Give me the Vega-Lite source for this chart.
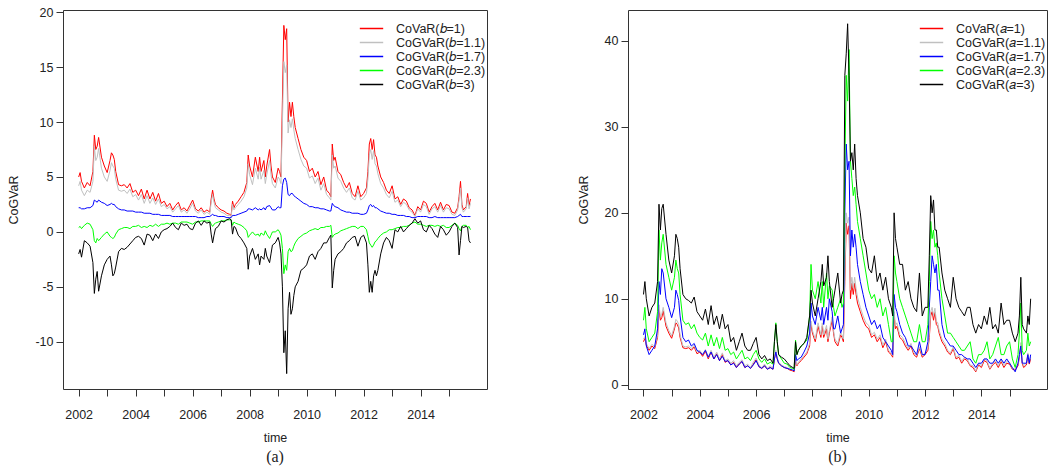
{
  "$schema": "https://vega.github.io/schema/vega-lite/v6.json",
  "background": "white",
  "padding": {"left": 7, "top": 5, "right": 5, "bottom": 5},
  "bounds": "flush",
  "spacing": 141,
  "resolve": {"scale": {"color": "independent", "x": "independent", "y": "independent"}, "legend": {"color": "independent"}},
  "config": {
    "font": "Liberation Sans",
    "view": {"stroke": "#333", "strokeWidth": 1},
    "axis": {"grid": false, "domain": false, "tickColor": "#333", "tickSize": 7, "labelFontSize": 12.5, "labelColor": "#222", "titleFontSize": 12.5, "titleFontWeight": "normal", "titleColor": "#222", "labelFont": "Liberation Sans", "titleFont": "Liberation Sans"},
    "legend": {"orient": "none", "symbolType": "M-1.8,0L1.8,0", "symbolSize": 169, "symbolStrokeWidth": 1.5, "labelFontSize": 12.5, "labelFont": "Liberation Sans", "labelColor": "#222", "labelOffset": 17, "padding": 0, "rowPadding": -1, "labelLimit": 300, "title": null},
    "title": {"font": "Liberation Serif", "fontSize": 16, "fontWeight": "normal", "color": "#222"}
  },
  "datasets": {
    "d": [
      {"t":2002.0,"r":5.0,"ga":4.2,"ba":2.2,"na":0.4,"ka":-2.0,"gb":5.3,"bb":5.8,"nb":7.5,"kb":10.5},
      {"t":2002.05,"r":5.4,"ga":4.6,"ba":2.2,"na":0.5,"ka":-1.6,"gb":5.6,"bb":6.5,"nb":9.0,"kb":12.0},
      {"t":2002.1,"r":4.6,"ga":3.8,"ba":2.1,"na":0.3,"ka":-2.3,"gb":4.8,"bb":4.5,"nb":6.5,"kb":10.0},
      {"t":2002.2,"r":4.0,"ga":3.3,"ba":2.1,"na":0.6,"ka":-0.8,"gb":4.2,"bb":3.5,"nb":5.0,"kb":8.0},
      {"t":2002.3,"r":4.5,"ga":3.8,"ba":2.2,"na":0.8,"ka":-1.0,"gb":4.7,"bb":4.0,"nb":5.5,"kb":9.0},
      {"t":2002.4,"r":4.2,"ga":3.6,"ba":2.2,"na":0.7,"ka":-1.3,"gb":4.4,"bb":4.5,"nb":6.0,"kb":9.5},
      {"t":2002.5,"r":5.5,"ga":4.6,"ba":2.4,"na":0.2,"ka":-2.8,"gb":5.8,"bb":6.5,"nb":8.5,"kb":12.0},
      {"t":2002.55,"r":8.8,"ga":7.8,"ba":2.9,"na":-0.8,"ka":-5.6,"gb":9.3,"bb":12.0,"nb":18.0,"kb":21.0},
      {"t":2002.6,"r":7.5,"ga":6.5,"ba":2.8,"na":-1.0,"ka":-4.3,"gb":7.9,"bb":10.5,"nb":14.5,"kb":18.0},
      {"t":2002.65,"r":7.8,"ga":6.8,"ba":2.7,"na":-0.6,"ka":-3.6,"gb":8.2,"bb":13.5,"nb":16.5,"kb":20.5},
      {"t":2002.7,"r":8.6,"ga":7.6,"ba":2.9,"na":-0.8,"ka":-5.4,"gb":9.0,"bb":13.0,"nb":17.5,"kb":21.0},
      {"t":2002.8,"r":6.8,"ga":5.8,"ba":2.7,"na":-0.5,"ka":-4.0,"gb":7.2,"bb":10.0,"nb":14.0,"kb":17.5},
      {"t":2002.9,"r":6.0,"ga":5.0,"ba":2.6,"na":-0.2,"ka":-3.0,"gb":6.3,"bb":9.0,"nb":12.5,"kb":14.5},
      {"t":2003.0,"r":5.4,"ga":4.6,"ba":2.4,"na":0.0,"ka":-2.5,"gb":5.7,"bb":7.8,"nb":11.0,"kb":13.0},
      {"t":2003.1,"r":6.5,"ga":5.6,"ba":2.5,"na":-0.4,"ka":-2.2,"gb":6.8,"bb":9.0,"nb":12.5,"kb":15.0},
      {"t":2003.15,"r":7.2,"ga":6.3,"ba":2.6,"na":-0.5,"ka":-3.0,"gb":7.6,"bb":11.0,"nb":14.5,"kb":17.5},
      {"t":2003.2,"r":7.0,"ga":6.0,"ba":2.5,"na":-0.6,"ka":-4.0,"gb":7.4,"bb":10.5,"nb":13.5,"kb":17.0},
      {"t":2003.25,"r":6.6,"ga":5.8,"ba":2.5,"na":-0.5,"ka":-3.8,"gb":7.0,"bb":9.8,"nb":13.0,"kb":16.0},
      {"t":2003.3,"r":5.5,"ga":4.8,"ba":2.3,"na":-0.2,"ka":-3.2,"gb":5.8,"bb":8.0,"nb":10.5,"kb":13.5},
      {"t":2003.4,"r":4.3,"ga":3.8,"ba":2.1,"na":0.2,"ka":-1.8,"gb":4.5,"bb":5.5,"nb":7.5,"kb":10.5},
      {"t":2003.5,"r":4.2,"ga":3.7,"ba":2.0,"na":0.3,"ka":-1.5,"gb":4.4,"bb":5.0,"nb":7.0,"kb":10.0},
      {"t":2003.6,"r":4.3,"ga":3.8,"ba":2.0,"na":0.4,"ka":-1.6,"gb":4.5,"bb":5.2,"nb":7.2,"kb":9.8},
      {"t":2003.7,"r":4.0,"ga":3.5,"ba":1.9,"na":0.4,"ka":-1.4,"gb":4.2,"bb":4.5,"nb":6.5,"kb":9.5},
      {"t":2003.8,"r":4.4,"ga":3.9,"ba":1.9,"na":0.3,"ka":-1.1,"gb":4.6,"bb":4.8,"nb":7.0,"kb":10.2},
      {"t":2003.9,"r":3.6,"ga":3.2,"ba":1.9,"na":0.5,"ka":-0.8,"gb":3.8,"bb":4.0,"nb":6.0,"kb":8.5},
      {"t":2004.0,"r":3.8,"ga":3.4,"ba":1.8,"na":0.5,"ka":-0.5,"gb":4.0,"bb":3.8,"nb":5.5,"kb":8.0},
      {"t":2004.1,"r":3.3,"ga":2.9,"ba":1.8,"na":0.6,"ka":-0.4,"gb":3.5,"bb":3.5,"nb":5.2,"kb":7.5},
      {"t":2004.2,"r":3.9,"ga":3.4,"ba":1.8,"na":0.4,"ka":-0.6,"gb":4.1,"bb":4.0,"nb":6.0,"kb":8.8},
      {"t":2004.3,"r":3.0,"ga":2.6,"ba":1.7,"na":0.5,"ka":-1.2,"gb":3.2,"bb":3.2,"nb":4.5,"kb":7.0},
      {"t":2004.4,"r":3.8,"ga":3.3,"ba":1.7,"na":0.4,"ka":-0.2,"gb":4.0,"bb":3.8,"nb":5.8,"kb":9.2},
      {"t":2004.5,"r":3.0,"ga":2.6,"ba":1.7,"na":0.6,"ka":-0.3,"gb":3.2,"bb":3.0,"nb":4.5,"kb":7.0},
      {"t":2004.6,"r":3.6,"ga":3.1,"ba":1.6,"na":0.5,"ka":-0.8,"gb":3.8,"bb":3.5,"nb":5.5,"kb":8.0},
      {"t":2004.7,"r":2.8,"ga":2.5,"ba":1.6,"na":0.7,"ka":-0.2,"gb":3.0,"bb":2.8,"nb":4.2,"kb":6.5},
      {"t":2004.8,"r":3.5,"ga":3.0,"ba":1.6,"na":0.5,"ka":-0.6,"gb":3.7,"bb":3.3,"nb":5.5,"kb":8.2},
      {"t":2004.9,"r":2.6,"ga":2.3,"ba":1.5,"na":0.7,"ka":0.0,"gb":2.8,"bb":2.7,"nb":4.0,"kb":6.5},
      {"t":2005.0,"r":2.8,"ga":2.5,"ba":1.5,"na":0.7,"ka":0.2,"gb":3.0,"bb":2.8,"nb":4.2,"kb":7.0},
      {"t":2005.1,"r":2.3,"ga":2.1,"ba":1.5,"na":0.8,"ka":0.3,"gb":2.5,"bb":2.3,"nb":3.5,"kb":5.0},
      {"t":2005.2,"r":2.6,"ga":2.3,"ba":1.5,"na":0.7,"ka":0.5,"gb":2.8,"bb":2.5,"nb":3.8,"kb":5.5},
      {"t":2005.3,"r":2.0,"ga":1.8,"ba":1.4,"na":0.8,"ka":0.8,"gb":2.2,"bb":2.0,"nb":3.0,"kb":4.0},
      {"t":2005.4,"r":2.4,"ga":2.1,"ba":1.4,"na":0.8,"ka":0.4,"gb":2.6,"bb":2.4,"nb":3.5,"kb":5.0},
      {"t":2005.5,"r":2.7,"ga":2.4,"ba":1.4,"na":0.7,"ka":0.2,"gb":2.9,"bb":2.7,"nb":4.0,"kb":6.0},
      {"t":2005.6,"r":2.0,"ga":1.8,"ba":1.4,"na":0.9,"ka":0.8,"gb":2.2,"bb":2.0,"nb":3.0,"kb":4.5},
      {"t":2005.7,"r":2.2,"ga":2.0,"ba":1.4,"na":0.9,"ka":0.6,"gb":2.4,"bb":2.2,"nb":3.2,"kb":4.0},
      {"t":2005.8,"r":1.9,"ga":1.7,"ba":1.4,"na":0.9,"ka":0.7,"gb":2.0,"bb":1.9,"nb":2.8,"kb":4.0},
      {"t":2005.9,"r":2.4,"ga":2.1,"ba":1.4,"na":0.8,"ka":0.3,"gb":2.6,"bb":2.3,"nb":3.5,"kb":4.8},
      {"t":2006.0,"r":2.9,"ga":2.6,"ba":1.4,"na":0.7,"ka":0.2,"gb":3.1,"bb":2.8,"nb":4.0,"kb":5.5},
      {"t":2006.1,"r":2.1,"ga":1.9,"ba":1.4,"na":0.9,"ka":0.8,"gb":2.3,"bb":2.1,"nb":3.0,"kb":3.5},
      {"t":2006.2,"r":1.9,"ga":1.7,"ba":1.3,"na":0.9,"ka":1.0,"gb":2.0,"bb":1.9,"nb":2.6,"kb":3.0},
      {"t":2006.3,"r":2.2,"ga":2.0,"ba":1.3,"na":1.0,"ka":0.6,"gb":2.4,"bb":2.2,"nb":3.0,"kb":3.4},
      {"t":2006.4,"r":1.8,"ga":1.6,"ba":1.3,"na":1.0,"ka":1.0,"gb":1.9,"bb":1.8,"nb":2.4,"kb":2.8},
      {"t":2006.5,"r":2.0,"ga":1.8,"ba":1.4,"na":1.0,"ka":0.8,"gb":2.2,"bb":2.0,"nb":2.6,"kb":3.0},
      {"t":2006.6,"r":1.8,"ga":1.6,"ba":1.4,"na":1.0,"ka":0.9,"gb":1.9,"bb":1.8,"nb":2.4,"kb":2.5},
      {"t":2006.65,"r":3.0,"ga":2.7,"ba":1.5,"na":0.7,"ka":-0.2,"gb":3.2,"bb":3.0,"nb":5.0,"kb":5.0},
      {"t":2006.7,"r":3.8,"ga":3.4,"ba":1.6,"na":0.5,"ka":-1.0,"gb":4.0,"bb":3.8,"nb":7.2,"kb":7.0},
      {"t":2006.75,"r":3.0,"ga":2.7,"ba":1.5,"na":0.7,"ka":-0.3,"gb":3.2,"bb":3.0,"nb":5.0,"kb":5.0},
      {"t":2006.8,"r":2.5,"ga":2.2,"ba":1.5,"na":0.8,"ka":0.3,"gb":2.6,"bb":2.5,"nb":3.5,"kb":3.5},
      {"t":2006.9,"r":2.2,"ga":2.0,"ba":1.4,"na":0.9,"ka":0.5,"gb":2.3,"bb":2.2,"nb":3.0,"kb":3.2},
      {"t":2007.0,"r":2.0,"ga":1.8,"ba":1.4,"na":1.0,"ka":1.0,"gb":2.1,"bb":2.0,"nb":2.5,"kb":3.0},
      {"t":2007.1,"r":1.9,"ga":1.7,"ba":1.4,"na":1.0,"ka":0.9,"gb":2.0,"bb":1.9,"nb":2.4,"kb":2.6},
      {"t":2007.2,"r":1.7,"ga":1.5,"ba":1.3,"na":1.1,"ka":1.1,"gb":1.8,"bb":1.8,"nb":2.0,"kb":2.2},
      {"t":2007.3,"r":1.6,"ga":1.5,"ba":1.3,"na":1.1,"ka":1.2,"gb":1.7,"bb":1.7,"nb":1.9,"kb":2.0},
      {"t":2007.35,"r":1.5,"ga":1.4,"ba":1.3,"na":1.1,"ka":1.1,"gb":1.6,"bb":1.6,"nb":1.8,"kb":1.9},
      {"t":2007.4,"r":2.8,"ga":2.5,"ba":1.5,"na":0.6,"ka":-0.2,"gb":3.0,"bb":3.5,"nb":5.2,"kb":5.0},
      {"t":2007.45,"r":2.2,"ga":2.0,"ba":1.5,"na":0.9,"ka":0.5,"gb":2.3,"bb":2.8,"nb":3.5,"kb":3.5},
      {"t":2007.5,"r":2.5,"ga":2.2,"ba":1.5,"na":0.8,"ka":0.4,"gb":2.6,"bb":3.0,"nb":4.0,"kb":4.0},
      {"t":2007.6,"r":2.8,"ga":2.5,"ba":1.6,"na":0.7,"ka":-0.3,"gb":3.0,"bb":3.2,"nb":4.5,"kb":4.5},
      {"t":2007.7,"r":3.2,"ga":2.8,"ba":1.7,"na":0.6,"ka":-0.6,"gb":3.4,"bb":3.8,"nb":4.8,"kb":4.8},
      {"t":2007.8,"r":3.6,"ga":3.2,"ba":1.8,"na":0.4,"ka":-1.0,"gb":3.8,"bb":4.5,"nb":5.2,"kb":5.5},
      {"t":2007.9,"r":4.5,"ga":4.0,"ba":1.9,"na":0.1,"ka":-1.5,"gb":4.8,"bb":6.0,"nb":8.0,"kb":8.0},
      {"t":2007.95,"r":7.0,"ga":6.2,"ba":2.1,"na":-0.5,"ka":-3.4,"gb":7.4,"bb":9.5,"nb":14.0,"kb":11.0},
      {"t":2008.0,"r":6.0,"ga":5.2,"ba":2.1,"na":-0.3,"ka":-2.2,"gb":6.3,"bb":8.0,"nb":11.0,"kb":9.5},
      {"t":2008.1,"r":5.0,"ga":4.3,"ba":2.0,"na":0.0,"ka":-1.5,"gb":5.3,"bb":7.0,"nb":10.0,"kb":8.0},
      {"t":2008.2,"r":6.8,"ga":5.8,"ba":2.2,"na":-0.3,"ka":-2.5,"gb":7.2,"bb":9.0,"nb":12.0,"kb":10.0},
      {"t":2008.3,"r":5.5,"ga":4.8,"ba":2.0,"na":-0.2,"ka":-2.0,"gb":5.8,"bb":7.5,"nb":9.5,"kb":12.0},
      {"t":2008.35,"r":6.8,"ga":5.9,"ba":2.1,"na":-0.4,"ka":-3.0,"gb":7.2,"bb":9.0,"nb":12.0,"kb":14.0},
      {"t":2008.4,"r":5.5,"ga":4.8,"ba":2.0,"na":-0.1,"ka":-2.2,"gb":5.8,"bb":7.0,"nb":9.0,"kb":11.5},
      {"t":2008.5,"r":6.5,"ga":5.6,"ba":2.2,"na":-0.3,"ka":-2.5,"gb":6.9,"bb":9.0,"nb":13.0,"kb":12.5},
      {"t":2008.55,"r":5.0,"ga":4.4,"ba":2.0,"na":0.1,"ka":-1.5,"gb":5.3,"bb":7.5,"nb":10.0,"kb":15.0},
      {"t":2008.6,"r":6.0,"ga":5.2,"ba":2.3,"na":-0.2,"ka":-2.2,"gb":6.3,"bb":10.0,"nb":11.5,"kb":12.0},
      {"t":2008.7,"r":7.5,"ga":6.5,"ba":2.4,"na":-0.6,"ka":-2.8,"gb":7.9,"bb":8.5,"nb":11.0,"kb":9.0},
      {"t":2008.75,"r":6.0,"ga":5.2,"ba":2.2,"na":-0.3,"ka":-2.0,"gb":6.3,"bb":6.5,"nb":9.0,"kb":10.0},
      {"t":2008.8,"r":5.0,"ga":4.4,"ba":2.0,"na":0.0,"ka":-1.2,"gb":5.3,"bb":6.5,"nb":8.0,"kb":11.0},
      {"t":2008.9,"r":4.5,"ga":4.0,"ba":2.0,"na":0.0,"ka":-1.0,"gb":4.8,"bb":8.0,"nb":9.0,"kb":13.0},
      {"t":2009.0,"r":5.8,"ga":5.0,"ba":2.3,"na":0.2,"ka":-0.5,"gb":6.1,"bb":6.0,"nb":10.0,"kb":9.5},
      {"t":2009.05,"r":5.5,"ga":4.8,"ba":2.2,"na":0.0,"ka":-1.0,"gb":5.8,"bb":6.5,"nb":9.0,"kb":10.5},
      {"t":2009.1,"r":5.0,"ga":4.4,"ba":2.2,"na":-0.3,"ka":-2.0,"gb":5.3,"bb":7.0,"nb":9.5,"kb":11.0},
      {"t":2009.15,"r":12.0,"ga":10.0,"ba":4.2,"na":-1.5,"ka":-5.0,"gb":13.0,"bb":20.0,"nb":25.0,"kb":36.0},
      {"t":2009.2,"r":18.8,"ga":15.5,"ba":4.8,"na":-3.8,"ka":-11.0,"gb":20.0,"bb":28.0,"nb":36.0,"kb":38.5},
      {"t":2009.25,"r":17.5,"ga":14.5,"ba":4.9,"na":-3.0,"ka":-9.0,"gb":18.8,"bb":25.0,"nb":33.0,"kb":42.0},
      {"t":2009.3,"r":18.5,"ga":15.2,"ba":4.5,"na":-3.5,"ka":-12.9,"gb":19.5,"bb":26.0,"nb":39.0,"kb":36.0},
      {"t":2009.35,"r":10.0,"ga":9.0,"ba":3.4,"na":-1.8,"ka":-7.0,"gb":11.0,"bb":15.0,"nb":26.0,"kb":26.0},
      {"t":2009.4,"r":11.8,"ga":10.2,"ba":3.3,"na":-1.5,"ka":-5.5,"gb":12.5,"bb":18.0,"nb":24.0,"kb":27.0},
      {"t":2009.45,"r":10.5,"ga":9.5,"ba":3.5,"na":-1.8,"ka":-7.5,"gb":11.2,"bb":16.0,"nb":22.0,"kb":25.0},
      {"t":2009.5,"r":11.8,"ga":10.3,"ba":3.5,"na":-1.7,"ka":-7.0,"gb":12.5,"bb":17.5,"nb":23.0,"kb":28.0},
      {"t":2009.55,"r":10.5,"ga":9.3,"ba":3.3,"na":-1.3,"ka":-5.8,"gb":11.2,"bb":16.0,"nb":21.0,"kb":24.0},
      {"t":2009.6,"r":9.5,"ga":8.5,"ba":3.2,"na":-1.0,"ka":-5.0,"gb":10.2,"bb":14.0,"nb":19.0,"kb":22.0},
      {"t":2009.7,"r":8.5,"ga":7.5,"ba":3.0,"na":-0.6,"ka":-4.5,"gb":9.0,"bb":12.0,"nb":17.0,"kb":20.0},
      {"t":2009.8,"r":7.5,"ga":6.6,"ba":2.8,"na":-0.4,"ka":-3.5,"gb":8.0,"bb":10.5,"nb":15.0,"kb":17.0},
      {"t":2009.9,"r":6.8,"ga":6.0,"ba":2.6,"na":-0.2,"ka":-3.3,"gb":7.2,"bb":9.0,"nb":13.0,"kb":16.0},
      {"t":2010.0,"r":6.5,"ga":5.8,"ba":2.5,"na":-0.1,"ka":-3.0,"gb":6.9,"bb":8.0,"nb":11.0,"kb":13.5},
      {"t":2010.1,"r":5.5,"ga":4.9,"ba":2.3,"na":0.1,"ka":-2.2,"gb":5.8,"bb":7.0,"nb":10.0,"kb":13.0},
      {"t":2010.2,"r":5.8,"ga":5.1,"ba":2.3,"na":0.2,"ka":-2.0,"gb":6.1,"bb":7.5,"nb":10.5,"kb":15.0},
      {"t":2010.3,"r":5.0,"ga":4.4,"ba":2.2,"na":0.3,"ka":-2.5,"gb":5.3,"bb":6.5,"nb":9.0,"kb":12.0},
      {"t":2010.4,"r":5.5,"ga":4.9,"ba":2.2,"na":0.2,"ka":-1.8,"gb":5.8,"bb":7.0,"nb":10.0,"kb":13.0},
      {"t":2010.5,"r":4.3,"ga":3.8,"ba":2.1,"na":0.4,"ka":-1.5,"gb":4.6,"bb":5.5,"nb":8.0,"kb":11.0},
      {"t":2010.6,"r":5.0,"ga":4.4,"ba":2.1,"na":0.4,"ka":-1.0,"gb":5.3,"bb":5.0,"nb":9.0,"kb":12.5},
      {"t":2010.7,"r":3.8,"ga":3.4,"ba":2.0,"na":0.5,"ka":-1.0,"gb":4.0,"bb":4.5,"nb":7.0,"kb":10.0},
      {"t":2010.8,"r":3.5,"ga":3.1,"ba":1.9,"na":0.5,"ka":-0.5,"gb":3.7,"bb":4.0,"nb":5.0,"kb":9.0},
      {"t":2010.85,"r":3.2,"ga":2.9,"ba":1.9,"na":0.6,"ka":-0.3,"gb":3.4,"bb":3.5,"nb":5.0,"kb":8.0},
      {"t":2010.9,"r":8.0,"ga":7.0,"ba":2.6,"na":-0.5,"ka":-5.1,"gb":8.5,"bb":10.5,"nb":15.0,"kb":20.0},
      {"t":2010.95,"r":6.5,"ga":5.8,"ba":2.4,"na":-0.3,"ka":-3.5,"gb":6.9,"bb":9.0,"nb":13.0,"kb":17.0},
      {"t":2011.0,"r":6.8,"ga":6.0,"ba":2.3,"na":-0.2,"ka":-2.5,"gb":7.2,"bb":8.5,"nb":12.0,"kb":16.0},
      {"t":2011.1,"r":5.5,"ga":4.9,"ba":2.2,"na":-0.1,"ka":-2.0,"gb":5.8,"bb":7.0,"nb":10.0,"kb":14.0},
      {"t":2011.2,"r":5.2,"ga":4.6,"ba":2.0,"na":0.1,"ka":-1.8,"gb":5.5,"bb":6.0,"nb":9.0,"kb":14.0},
      {"t":2011.3,"r":4.5,"ga":4.0,"ba":1.9,"na":0.2,"ka":-1.5,"gb":4.8,"bb":5.5,"nb":8.0,"kb":11.0},
      {"t":2011.4,"r":4.0,"ga":3.6,"ba":1.8,"na":0.3,"ka":-1.0,"gb":4.2,"bb":4.5,"nb":7.0,"kb":12.0},
      {"t":2011.5,"r":4.5,"ga":4.0,"ba":1.8,"na":0.4,"ka":-0.8,"gb":4.8,"bb":4.5,"nb":6.0,"kb":10.0},
      {"t":2011.6,"r":3.5,"ga":3.1,"ba":1.7,"na":0.5,"ka":-0.5,"gb":3.7,"bb":4.0,"nb":5.0,"kb":9.0},
      {"t":2011.7,"r":3.2,"ga":2.9,"ba":1.7,"na":0.5,"ka":-0.4,"gb":3.4,"bb":3.5,"nb":5.0,"kb":8.5},
      {"t":2011.8,"r":4.2,"ga":3.7,"ba":1.7,"na":0.3,"ka":-1.3,"gb":4.4,"bb":5.0,"nb":7.0,"kb":13.0},
      {"t":2011.9,"r":3.2,"ga":2.9,"ba":1.6,"na":0.5,"ka":-0.5,"gb":3.4,"bb":3.5,"nb":5.0,"kb":8.0},
      {"t":2012.0,"r":3.5,"ga":3.1,"ba":1.6,"na":0.5,"ka":-0.3,"gb":3.7,"bb":3.5,"nb":5.0,"kb":9.0},
      {"t":2012.1,"r":4.0,"ga":3.5,"ba":1.7,"na":0.2,"ka":-1.0,"gb":4.3,"bb":5.0,"nb":7.0,"kb":9.0},
      {"t":2012.15,"r":5.5,"ga":4.8,"ba":2.0,"na":-0.4,"ka":-3.0,"gb":5.9,"bb":9.0,"nb":12.0,"kb":15.0},
      {"t":2012.2,"r":8.0,"ga":7.0,"ba":2.4,"na":-1.0,"ka":-5.5,"gb":8.5,"bb":12.0,"nb":19.0,"kb":22.0},
      {"t":2012.25,"r":8.5,"ga":7.5,"ba":2.5,"na":-1.2,"ka":-4.5,"gb":9.0,"bb":15.0,"nb":17.0,"kb":20.0},
      {"t":2012.3,"r":7.5,"ga":6.6,"ba":2.3,"na":-1.4,"ka":-5.5,"gb":8.0,"bb":14.0,"nb":18.0,"kb":21.5},
      {"t":2012.35,"r":8.4,"ga":7.4,"ba":2.4,"na":-1.2,"ka":-4.0,"gb":8.9,"bb":13.0,"nb":16.0,"kb":18.0},
      {"t":2012.4,"r":7.0,"ga":6.2,"ba":2.2,"na":-0.9,"ka":-3.5,"gb":7.4,"bb":14.0,"nb":16.5,"kb":18.0},
      {"t":2012.45,"r":6.8,"ga":6.0,"ba":2.2,"na":-0.8,"ka":-4.0,"gb":7.2,"bb":11.0,"nb":15.0,"kb":16.0},
      {"t":2012.5,"r":6.0,"ga":5.3,"ba":2.1,"na":-0.6,"ka":-3.5,"gb":6.3,"bb":11.0,"nb":13.0,"kb":16.0},
      {"t":2012.6,"r":5.0,"ga":4.4,"ba":1.9,"na":-0.3,"ka":-2.0,"gb":5.3,"bb":7.0,"nb":10.0,"kb":13.0},
      {"t":2012.7,"r":4.5,"ga":4.0,"ba":1.8,"na":-0.1,"ka":-1.0,"gb":4.8,"bb":5.5,"nb":8.0,"kb":11.0},
      {"t":2012.8,"r":3.8,"ga":3.4,"ba":1.7,"na":0.0,"ka":-0.5,"gb":4.0,"bb":5.0,"nb":6.0,"kb":10.0},
      {"t":2012.9,"r":3.5,"ga":3.1,"ba":1.7,"na":0.2,"ka":-0.8,"gb":3.7,"bb":4.5,"nb":6.0,"kb":9.0},
      {"t":2013.0,"r":4.2,"ga":3.7,"ba":1.6,"na":0.2,"ka":-1.5,"gb":4.4,"bb":4.5,"nb":5.5,"kb":12.5},
      {"t":2013.1,"r":3.0,"ga":2.7,"ba":1.6,"na":0.3,"ka":0.2,"gb":3.2,"bb":4.0,"nb":5.0,"kb":10.0},
      {"t":2013.2,"r":3.2,"ga":2.9,"ba":1.5,"na":0.4,"ka":0.0,"gb":3.4,"bb":3.5,"nb":4.5,"kb":9.0},
      {"t":2013.3,"r":2.5,"ga":2.3,"ba":1.5,"na":0.4,"ka":0.5,"gb":2.7,"bb":3.5,"nb":4.0,"kb":8.5},
      {"t":2013.4,"r":3.0,"ga":2.7,"ba":1.5,"na":0.5,"ka":0.0,"gb":3.2,"bb":3.2,"nb":4.0,"kb":8.0},
      {"t":2013.5,"r":2.8,"ga":2.5,"ba":1.4,"na":0.5,"ka":0.3,"gb":3.0,"bb":3.0,"nb":4.5,"kb":9.0},
      {"t":2013.6,"r":2.2,"ga":2.0,"ba":1.4,"na":0.6,"ka":0.6,"gb":2.3,"bb":3.0,"nb":5.0,"kb":9.0},
      {"t":2013.7,"r":2.0,"ga":1.8,"ba":1.3,"na":0.8,"ka":0.8,"gb":2.2,"bb":2.5,"nb":3.0,"kb":7.0},
      {"t":2013.8,"r":1.5,"ga":1.4,"ba":1.3,"na":0.9,"ka":1.2,"gb":1.6,"bb":2.0,"nb":2.5,"kb":6.0},
      {"t":2013.9,"r":2.3,"ga":2.1,"ba":1.4,"na":0.7,"ka":0.8,"gb":2.5,"bb":2.5,"nb":3.5,"kb":7.0},
      {"t":2014.0,"r":2.0,"ga":1.8,"ba":1.4,"na":0.7,"ka":1.0,"gb":2.2,"bb":2.5,"nb":3.5,"kb":6.5},
      {"t":2014.1,"r":2.8,"ga":2.5,"ba":1.4,"na":0.6,"ka":0.2,"gb":3.0,"bb":3.0,"nb":4.0,"kb":8.0},
      {"t":2014.2,"r":2.6,"ga":2.3,"ba":1.4,"na":0.5,"ka":0.0,"gb":2.8,"bb":3.0,"nb":5.0,"kb":7.0},
      {"t":2014.3,"r":1.8,"ga":1.6,"ba":1.3,"na":0.6,"ka":0.6,"gb":1.9,"bb":2.5,"nb":3.0,"kb":9.0},
      {"t":2014.4,"r":2.3,"ga":2.1,"ba":1.3,"na":0.6,"ka":0.3,"gb":2.5,"bb":2.5,"nb":3.5,"kb":6.5},
      {"t":2014.5,"r":2.6,"ga":2.3,"ba":1.4,"na":0.5,"ka":-0.2,"gb":2.8,"bb":3.0,"nb":4.5,"kb":7.0},
      {"t":2014.6,"r":2.0,"ga":1.8,"ba":1.3,"na":0.6,"ka":-0.5,"gb":2.2,"bb":2.5,"nb":5.5,"kb":6.0},
      {"t":2014.7,"r":2.7,"ga":2.4,"ba":1.3,"na":0.5,"ka":0.5,"gb":2.9,"bb":3.0,"nb":3.5,"kb":9.5},
      {"t":2014.8,"r":2.0,"ga":1.8,"ba":1.3,"na":0.6,"ka":0.2,"gb":2.2,"bb":2.5,"nb":3.5,"kb":7.0},
      {"t":2014.9,"r":2.5,"ga":2.2,"ba":1.3,"na":0.4,"ka":-0.3,"gb":2.7,"bb":3.0,"nb":4.5,"kb":7.5},
      {"t":2015.0,"r":2.4,"ga":2.1,"ba":1.3,"na":0.4,"ka":0.0,"gb":2.6,"bb":2.5,"nb":5.0,"kb":7.5},
      {"t":2015.1,"r":1.8,"ga":1.6,"ba":1.3,"na":0.6,"ka":0.5,"gb":1.9,"bb":2.0,"nb":3.0,"kb":6.0},
      {"t":2015.2,"r":1.7,"ga":1.5,"ba":1.3,"na":0.8,"ka":0.8,"gb":1.8,"bb":1.5,"nb":2.0,"kb":5.0},
      {"t":2015.3,"r":2.2,"ga":2.0,"ba":1.4,"na":0.6,"ka":0.4,"gb":2.4,"bb":2.5,"nb":3.5,"kb":6.0},
      {"t":2015.35,"r":3.2,"ga":2.9,"ba":1.5,"na":0.3,"ka":-2.1,"gb":3.4,"bb":3.5,"nb":6.0,"kb":8.0},
      {"t":2015.4,"r":4.6,"ga":4.0,"ba":1.6,"na":0.1,"ka":-0.8,"gb":4.9,"bb":4.5,"nb":9.5,"kb":12.5},
      {"t":2015.45,"r":2.5,"ga":2.2,"ba":1.4,"na":0.5,"ka":0.5,"gb":2.7,"bb":2.5,"nb":4.0,"kb":7.0},
      {"t":2015.5,"r":2.0,"ga":1.8,"ba":1.4,"na":0.6,"ka":0.4,"gb":2.2,"bb":2.5,"nb":3.5,"kb":6.5},
      {"t":2015.6,"r":2.3,"ga":2.1,"ba":1.4,"na":0.6,"ka":0.5,"gb":2.5,"bb":2.5,"nb":4.0,"kb":6.0},
      {"t":2015.65,"r":3.5,"ga":3.1,"ba":1.4,"na":0.4,"ka":0.4,"gb":3.7,"bb":3.5,"nb":6.0,"kb":8.0},
      {"t":2015.7,"r":2.4,"ga":2.1,"ba":1.4,"na":0.5,"ka":-0.8,"gb":2.6,"bb":2.5,"nb":4.5,"kb":7.0},
      {"t":2015.75,"r":3.0,"ga":2.6,"ba":1.4,"na":0.2,"ka":-1.0,"gb":3.2,"bb":3.5,"nb":5.0,"kb":10.0}
    ]
  },
  "hconcat": [
    {
      "width": 424,
      "height": 379,
      "data": {"name": "d"},
      "transform": [{"fold": ["r", "ga", "ba", "na", "ka"], "as": ["s", "v"]}],
      "title": {"text": "(a)", "orient": "bottom", "anchor": "middle", "frame": "group", "offset": 5},
      "mark": {"type": "line", "strokeWidth": 1, "clip": true},
      "encoding": {
        "x": {"field": "t", "type": "quantitative", "scale": {"domain": [2001.45, 2016.33], "nice": false, "zero": false},
          "axis": {"title": "time", "values": [2002, 2003, 2004, 2005, 2006, 2007, 2008, 2009, 2010, 2011, 2012, 2013, 2014, 2015], "format": "d", "labelExpr": "datum.value % 2 == 0 ? datum.label : ''", "labelPadding": 12, "titlePadding": 11, "labelFlush": false, "labelOverlap": false}},
        "y": {"field": "v", "type": "quantitative", "scale": {"domain": [-14.3, 20.2], "nice": false, "zero": false},
          "axis": {"title": "CoGVaR", "values": [-10, -5, 0, 5, 10, 15, 20], "labelExpr": "replace(datum.label, '\u2212', '-')", "labelPadding": 3, "titlePadding": 14}},
        "color": {"field": "s", "type": "nominal",
          "scale": {"domain": ["r", "ga", "ba", "na", "ka"], "range": ["#ff0000", "#c0c0c0", "#0000ff", "#00ff00", "#000000"]},
          "legend": {"legendX": 301, "legendY": 11, "labelExpr": "datum.value == 'r' ? 'CoVaR(𝑏=1)' : datum.value == 'ga' ? 'CoGVaR(𝑏=1.1)' : datum.value == 'ba' ? 'CoGVaR(𝑏=1.7)' : datum.value == 'na' ? 'CoGVaR(𝑏=2.3)' : 'CoGVaR(𝑏=3)'"}}
      }
    },
    {
      "width": 419,
      "height": 379,
      "data": {"name": "d"},
      "transform": [{"fold": ["r", "gb", "bb", "nb", "kb"], "as": ["s", "v"]}],
      "title": {"text": "(b)", "orient": "bottom", "anchor": "middle", "frame": "group", "offset": 5},
      "mark": {"type": "line", "strokeWidth": 1, "clip": true},
      "encoding": {
        "x": {"field": "t", "type": "quantitative", "scale": {"domain": [2001.45, 2016.33], "nice": false, "zero": false},
          "axis": {"title": "time", "values": [2002, 2003, 2004, 2005, 2006, 2007, 2008, 2009, 2010, 2011, 2012, 2013, 2014, 2015], "format": "d", "labelExpr": "datum.value % 2 == 0 ? datum.label : ''", "labelPadding": 12, "titlePadding": 11, "labelFlush": false, "labelOverlap": false}},
        "y": {"field": "v", "type": "quantitative", "scale": {"domain": [-0.5, 43.6], "nice": false, "zero": false},
          "axis": {"title": "CoGVaR", "values": [0, 10, 20, 30, 40], "labelPadding": 3, "titlePadding": 14}},
        "color": {"field": "s", "type": "nominal",
          "scale": {"domain": ["r", "gb", "bb", "nb", "kb"], "range": ["#ff0000", "#c0c0c0", "#0000ff", "#00ff00", "#000000"]},
          "legend": {"legendX": 296, "legendY": 11, "labelExpr": "datum.value == 'r' ? 'CoVaR(𝑎=1)' : datum.value == 'gb' ? 'CoGVaR(𝑎=1.1)' : datum.value == 'bb' ? 'CoGVaR(𝑎=1.7)' : datum.value == 'nb' ? 'CoGVaR(𝑎=2.3)' : 'CoGVaR(𝑎=3)'"}}
      }
    }
  ]
}
